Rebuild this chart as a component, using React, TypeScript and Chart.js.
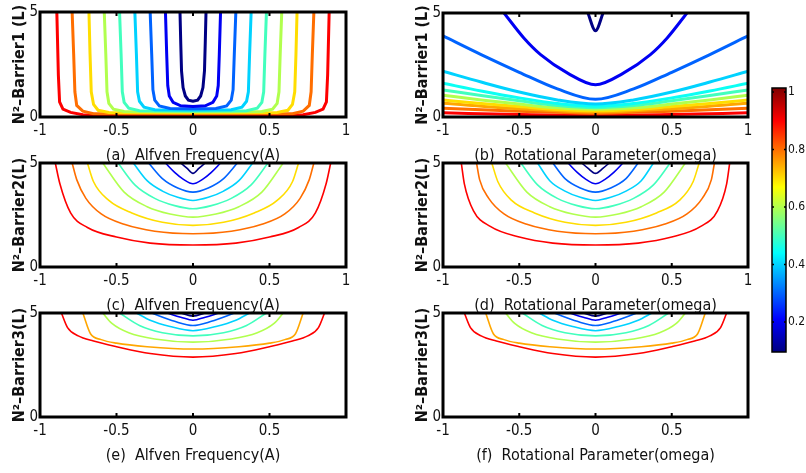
import React, { useEffect, useRef } from "react";
import { Chart, registerables } from "chart.js";
Chart.register(...registerables);

const FONT = "'Liberation Sans Narrow', 'Arial Narrow', 'DejaVu Sans Condensed', 'Liberation Sans', Arial, sans-serif";

// colour scale
const cbMin = 0.096;
const cbMax = 1.014;
const cbTicks = [0.2, 0.4, 0.6, 0.8, 1];

// axis ticks
const xTicksFull = [-1, -0.5, 0, 0.5, 1];
const xTicksShort = [-1, -0.5, 0, 0.5];
const yTicks = [0, 5];

// axis titles
const xTitles = [
  "(a)  Alfven Frequency(A)",
  "(b)  Rotational Parameter(omega)",
  "(c)  Alfven Frequency(A)",
  "(d)  Rotational Parameter(omega)",
  "(e)  Alfven Frequency(A)",
  "(f)  Rotational Parameter(omega)",
];
const yTitles = ["N\u00B2\u2013Barrier1 (L)", "N\u00B2\u2013Barrier2(L)", "N\u00B2\u2013Barrier3(L)"];

// contour levels and right halves (x >= 0) of each symmetric contour line, [x, y]
const levelsA = [0.1, 0.2, 0.3, 0.4, 0.5, 0.6, 0.7, 0.8, 0.9];
const contoursA = [
  [[0, 0.75], [0.03, 0.8], [0.05, 1.0], [0.065, 1.4], [0.075, 2.2], [0.08, 3.5], [0.085, 5]],
  [[0, 0.5], [0.08, 0.53], [0.13, 0.7], [0.155, 1.0], [0.165, 1.5], [0.172, 3], [0.18, 5]],
  [[0, 0.39], [0.15, 0.41], [0.22, 0.53], [0.25, 0.8], [0.262, 1.3], [0.27, 3], [0.28, 5]],
  [[0, 0.33], [0.25, 0.35], [0.32, 0.47], [0.35, 0.75], [0.362, 1.2], [0.37, 3], [0.38, 5]],
  [[0, 0.29], [0.35, 0.3], [0.42, 0.42], [0.45, 0.7], [0.462, 1.2], [0.47, 3], [0.48, 5]],
  [[0, 0.25], [0.45, 0.26], [0.52, 0.37], [0.55, 0.65], [0.562, 1.2], [0.57, 3], [0.58, 5]],
  [[0, 0.2], [0.55, 0.21], [0.62, 0.32], [0.65, 0.6], [0.665, 1.2], [0.673, 3], [0.68, 5]],
  [[0, 0.15], [0.65, 0.16], [0.72, 0.28], [0.76, 0.55], [0.772, 1.2], [0.78, 3], [0.79, 5]],
  [[0, 0.1], [0.72, 0.11], [0.8, 0.22], [0.85, 0.38], [0.872, 0.72], [0.88, 2], [0.89, 5]],
];

const levelsB = [0.1, 0.2, 0.3, 0.4, 0.45, 0.5, 0.6, 0.7, 0.75, 0.8, 0.9];
const contoursB = [
  [[0, 4.15], [0.05, 5]],
  [[0, 1.55], [0.18, 2.1], [0.36, 3.0], [0.47, 3.8], [0.6, 5]],
  [[0, 0.85], [0.25, 1.35], [0.5, 2.15], [0.75, 3.0], [1, 3.9]],
  [[0, 0.62], [0.25, 0.82], [0.5, 1.2], [0.75, 1.68], [1, 2.2]],
  [[0, 0.52], [0.25, 0.65], [0.5, 0.92], [0.75, 1.25], [1, 1.62]],
  [[0, 0.45], [0.25, 0.55], [0.5, 0.78], [0.75, 1.03], [1, 1.3]],
  [[0, 0.37], [0.25, 0.44], [0.5, 0.62], [0.75, 0.82], [1, 1.05]],
  [[0, 0.3], [0.25, 0.36], [0.5, 0.5], [0.75, 0.65], [1, 0.82]],
  [[0, 0.24], [0.5, 0.4], [1, 0.66]],
  [[0, 0.18], [0.5, 0.28], [1, 0.42]],
  [[0, 0.08], [0.5, 0.12], [1, 0.2]],
];

const levelsC = [0.1, 0.2, 0.3, 0.4, 0.5, 0.6, 0.7, 0.8, 0.9];
const contoursC = [
  [[0, 4.5], [0.04, 4.75], [0.08, 5]],
  [[0, 4.0], [0.06, 4.2], [0.12, 4.55], [0.18, 5]],
  [[0, 3.6], [0.1, 3.8], [0.2, 4.25], [0.29, 5]],
  [[0, 3.2], [0.1, 3.35], [0.2, 3.65], [0.3, 4.15], [0.39, 5]],
  [[0, 2.8], [0.12, 2.95], [0.25, 3.3], [0.38, 3.95], [0.49, 5]],
  [[0, 2.4], [0.15, 2.55], [0.3, 2.9], [0.45, 3.6], [0.59, 5]],
  [[0, 2.0], [0.2, 2.15], [0.4, 2.6], [0.55, 3.2], [0.65, 4.1], [0.69, 5]],
  [[0, 1.6], [0.25, 1.72], [0.45, 2.05], [0.6, 2.55], [0.7, 3.3], [0.76, 4.2], [0.79, 5]],
  [[0, 1.06], [0.28, 1.15], [0.5, 1.44], [0.69, 1.9], [0.8, 2.6], [0.87, 4.0], [0.9, 5]],
];

const levelsD = [0.1, 0.2, 0.3, 0.4, 0.5, 0.6, 0.7, 0.8, 0.9];
const contoursD = [
  [[0, 4.5], [0.05, 4.75], [0.09, 5]],
  [[0, 4.0], [0.06, 4.2], [0.12, 4.55], [0.18, 5]],
  [[0, 3.6], [0.1, 3.8], [0.2, 4.25], [0.28, 5]],
  [[0, 3.2], [0.1, 3.35], [0.2, 3.65], [0.3, 4.15], [0.38, 5]],
  [[0, 2.8], [0.12, 2.95], [0.25, 3.3], [0.38, 3.95], [0.49, 5]],
  [[0, 2.4], [0.15, 2.55], [0.3, 2.9], [0.45, 3.6], [0.59, 5]],
  [[0, 2.0], [0.2, 2.15], [0.4, 2.6], [0.55, 3.2], [0.64, 4.1], [0.68, 5]],
  [[0, 1.6], [0.25, 1.72], [0.45, 2.05], [0.6, 2.55], [0.7, 3.3], [0.76, 4.2], [0.78, 5]],
  [[0, 1.06], [0.28, 1.15], [0.5, 1.44], [0.69, 1.95], [0.8, 2.7], [0.86, 4.0], [0.88, 5]],
];

const levelsE = [0.1, 0.2, 0.3, 0.4, 0.5, 0.6, 0.75, 0.9];
const contoursE = [
  [[0, 4.85], [0.08, 5]],
  [[0, 4.65], [0.08, 4.8], [0.17, 5]],
  [[0, 4.4], [0.12, 4.6], [0.27, 5]],
  [[0, 4.15], [0.15, 4.35], [0.28, 4.65], [0.37, 5]],
  [[0, 3.9], [0.2, 4.05], [0.35, 4.4], [0.48, 5]],
  [[0, 3.6], [0.25, 3.75], [0.42, 4.05], [0.53, 4.5], [0.59, 5]],
  [[0, 3.27], [0.3, 3.38], [0.5, 3.55], [0.6, 3.72], [0.67, 4.0], [0.72, 5]],
  [[0, 2.88], [0.28, 3.05], [0.5, 3.38], [0.65, 3.65], [0.75, 3.9], [0.82, 4.3], [0.86, 5]],
];

const levelsF = [0.1, 0.2, 0.3, 0.4, 0.5, 0.6, 0.75, 0.9];
const contoursF = [
  [[0, 4.85], [0.08, 5]],
  [[0, 4.65], [0.08, 4.8], [0.17, 5]],
  [[0, 4.4], [0.12, 4.6], [0.27, 5]],
  [[0, 4.15], [0.15, 4.35], [0.28, 4.65], [0.37, 5]],
  [[0, 3.9], [0.2, 4.05], [0.35, 4.4], [0.48, 5]],
  [[0, 3.6], [0.25, 3.75], [0.42, 4.05], [0.53, 4.5], [0.59, 5]],
  [[0, 3.27], [0.3, 3.38], [0.5, 3.55], [0.6, 3.72], [0.67, 4.0], [0.72, 5]],
  [[0, 2.88], [0.28, 3.05], [0.5, 3.38], [0.65, 3.65], [0.75, 3.9], [0.82, 4.3], [0.86, 5]],
];

function clamp(v: number) {
  return Math.max(0, Math.min(1, v));
}
function jet(t: number) {
  const r = clamp(Math.min(4 * t - 1.5, -4 * t + 4.5));
  const g = clamp(Math.min(4 * t - 0.5, -4 * t + 3.5));
  const b = clamp(Math.min(4 * t + 0.5, -4 * t + 2.5));
  return `rgb(${Math.round(r * 255)},${Math.round(g * 255)},${Math.round(b * 255)})`;
}
function levelColor(L: number) {
  return jet((L - cbMin) / (cbMax - cbMin));
}

const framePlugin = {
  id: "frame",
  afterDatasetsDraw(chart: any, _args: any, opts: any) {
    const { ctx, chartArea } = chart;
    const { left, right, top, bottom } = chartArea;
    ctx.save();
    ctx.strokeStyle = "#000";
    ctx.lineWidth = opts.width;
    ctx.strokeRect(left, top, right - left, bottom - top);
    const scale = chart.scales[opts.axis];
    ctx.lineWidth = opts.tickWidth;
    ctx.beginPath();
    scale.ticks.forEach((t: any) => {
      const p = scale.getPixelForValue(t.value);
      if (opts.axis === "x") {
        ctx.moveTo(p, bottom);
        ctx.lineTo(p, bottom - opts.tickLen);
        ctx.moveTo(p, top);
        ctx.lineTo(p, top + opts.tickLen);
      } else {
        ctx.moveTo(left, p);
        ctx.lineTo(left + opts.tickLen, p);
        ctx.moveTo(right, p);
        ctx.lineTo(right - opts.tickLen, p);
      }
    });
    ctx.stroke();
    ctx.restore();
  },
};

function buildDatasets(levels: number[], contours: number[][][], width: number, smooth: boolean) {
  return contours.map((half, i) => {
    const left = half
      .slice()
      .reverse()
      .filter((p) => p[0] !== 0)
      .map(([x, y]) => ({ x: -x, y }));
    const right = half.map(([x, y]) => ({ x, y }));
    return {
      data: [...left, ...right],
      borderColor: levelColor(levels[i]),
      borderWidth: width,
      showLine: true,
      pointRadius: 0,
      fill: false,
      tension: 0,
      cubicInterpolationMode: smooth ? "monotone" : "default",
    };
  });
}

const PAD_TOP = 14;
const Y_AXIS_W = 40;
const X_AXIS_H = 48;
const PAD_RIGHT = 10;

function ContourPanel(props: {
  plot: { l: number; r: number; t: number; b: number };
  levels: number[];
  contours: number[][][];
  xTicks: number[];
  xTitle: string;
  yTitle: string;
  lineWidth: number;
  smooth: boolean;
}) {
  const ref = useRef<HTMLCanvasElement>(null);
  const { plot } = props;
  const left = plot.l - Y_AXIS_W;
  const top = plot.t - PAD_TOP;
  const width = plot.r - plot.l + Y_AXIS_W + PAD_RIGHT;
  const height = plot.b - plot.t + PAD_TOP + X_AXIS_H;

  useEffect(() => {
    if (!ref.current) return;
    const chart = new Chart(ref.current, {
      type: "scatter",
      data: { datasets: buildDatasets(props.levels, props.contours, props.lineWidth, props.smooth) as any },
      options: {
        animation: false,
        responsive: false,
        devicePixelRatio: 1,
        layout: { padding: { top: PAD_TOP, right: PAD_RIGHT, left: 0, bottom: 0 } },
        plugins: {
          legend: { display: false },
          tooltip: { enabled: false },
          frame: { width: 3, tickWidth: 2, tickLen: 4, axis: "x" },
        } as any,
        scales: {
          x: {
            type: "linear",
            min: -1,
            max: 1,
            afterBuildTicks: (s: any) => {
              s.ticks = props.xTicks.map((v) => ({ value: v }));
            },
            afterFit: (s: any) => {
              s.height = X_AXIS_H;
            },
            grid: { display: false, drawTicks: false },
            border: { display: false },
            ticks: {
              font: { family: FONT, size: 15 },
              color: "#111",
              padding: 5,
              maxRotation: 0,
              autoSkip: false,
              callback: (v: any) => String(v),
            },
            title: {
              display: true,
              text: props.xTitle,
              font: { family: FONT, size: 16 },
              color: "#111",
              padding: { top: 0, bottom: 0 },
            },
          },
          y: {
            type: "linear",
            min: 0,
            max: 5,
            afterBuildTicks: (s: any) => {
              s.ticks = yTicks.map((v) => ({ value: v }));
            },
            afterFit: (s: any) => {
              s.width = Y_AXIS_W;
            },
            grid: { display: false, drawTicks: false },
            border: { display: false },
            ticks: {
              font: { family: FONT, size: 15 },
              color: "#111",
              padding: 2,
              callback: (v: any) => String(v),
            },
            title: {
              display: true,
              text: props.yTitle,
              font: { family: FONT, size: 16, weight: "bold" },
              color: "#111",
              padding: { top: 10, bottom: 0 },
            },
          },
        },
      },
      plugins: [framePlugin],
    });
    return () => chart.destroy();
  }, []);

  return (
    <canvas
      ref={ref}
      width={width}
      height={height}
      style={{ position: "absolute", left, top, width, height }}
    />
  );
}

function ColorBar() {
  const ref = useRef<HTMLCanvasElement>(null);
  const left = 740;
  const top = 70;
  const width = 66;
  const height = 300;
  useEffect(() => {
    if (!ref.current) return;
    const chart = new Chart(ref.current, {
      type: "bar",
      data: {
        labels: ["colour"],
        datasets: [
          {
            data: [[cbMin, cbMax]] as any,
            backgroundColor: (c: any) => {
              const ch = c.chart;
              if (!ch.chartArea) return "#000";
              const y = ch.scales.y;
              const y0 = y.getPixelForValue(cbMin);
              const y1 = y.getPixelForValue(cbMax);
              const g = ch.ctx.createLinearGradient(0, y0, 0, y1);
              for (let i = 0; i <= 16; i++) g.addColorStop(i / 16, jet(i / 16));
              return g;
            },
            borderWidth: 0,
            barPercentage: 1,
            categoryPercentage: 1,
          },
        ],
      },
      options: {
        animation: false,
        responsive: false,
        devicePixelRatio: 1,
        layout: { padding: { top: 18, bottom: 18, left: 32, right: 0 } },
        plugins: {
          legend: { display: false },
          tooltip: { enabled: false },
          frame: { width: 1.5, tickWidth: 1.5, tickLen: 2, axis: "y" },
        } as any,
        scales: {
          x: { display: false },
          y: {
            position: "right",
            min: cbMin,
            max: cbMax,
            afterBuildTicks: (s: any) => {
              s.ticks = cbTicks.map((v) => ({ value: v }));
            },
            afterFit: (s: any) => {
              s.width = 20;
            },
            grid: { display: false, drawTicks: false },
            border: { display: false },
            ticks: {
              font: { family: FONT, size: 12 },
              color: "#111",
              padding: 2,
              callback: (v: any) => String(v),
            },
          },
        },
      },
      plugins: [framePlugin],
    });
    return () => chart.destroy();
  }, []);
  return (
    <canvas
      ref={ref}
      width={width}
      height={height}
      style={{ position: "absolute", left, top, width, height }}
    />
  );
}

export default function App() {
  return (
    <div
      style={{
        position: "absolute",
        left: 0,
        top: 0,
        width: 806,
        height: 473,
        background: "#fff",
        overflow: "hidden",
      }}
    >
      <ContourPanel plot={{ l: 40, r: 346, t: 12, b: 117 }} levels={levelsA} contours={contoursA} xTicks={xTicksFull} xTitle={xTitles[0]} yTitle={yTitles[0]} lineWidth={3} smooth={false} />
      <ContourPanel plot={{ l: 443, r: 748, t: 13, b: 117 }} levels={levelsB} contours={contoursB} xTicks={xTicksFull} xTitle={xTitles[1]} yTitle={yTitles[0]} lineWidth={3} smooth={true} />
      <ContourPanel plot={{ l: 40, r: 346, t: 163, b: 267 }} levels={levelsC} contours={contoursC} xTicks={xTicksFull} xTitle={xTitles[2]} yTitle={yTitles[1]} lineWidth={1.6} smooth={true} />
      <ContourPanel plot={{ l: 443, r: 748, t: 163, b: 267 }} levels={levelsD} contours={contoursD} xTicks={xTicksFull} xTitle={xTitles[3]} yTitle={yTitles[1]} lineWidth={1.6} smooth={true} />
      <ContourPanel plot={{ l: 40, r: 346, t: 313, b: 417 }} levels={levelsE} contours={contoursE} xTicks={xTicksShort} xTitle={xTitles[4]} yTitle={yTitles[2]} lineWidth={1.6} smooth={true} />
      <ContourPanel plot={{ l: 443, r: 748, t: 313, b: 417 }} levels={levelsF} contours={contoursF} xTicks={xTicksShort} xTitle={xTitles[5]} yTitle={yTitles[2]} lineWidth={1.6} smooth={true} />
      <ColorBar />
    </div>
  );
}
